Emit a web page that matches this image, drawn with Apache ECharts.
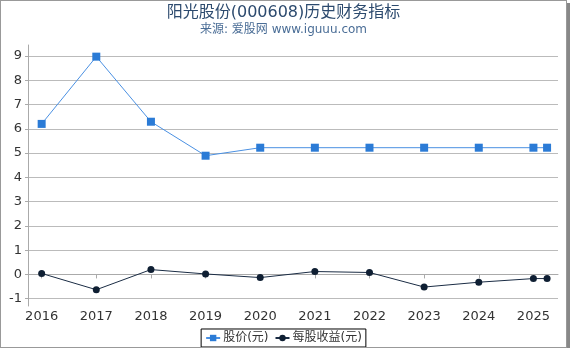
<!DOCTYPE html>
<html>
<head>
<meta charset="utf-8">
<script src="https://cdn.jsdelivr.net/npm/echarts@6/dist/echarts.min.js"></script>
<style>
	html, body { margin: 0; padding: 0; background: #fff; }
	#chart {
		width: 567px;
		height: 348px;
		border: 1px solid #999;
		box-shadow: 3px 3px 0 #888;
		box-sizing: border-box;
	}
</style>
</head>
<body>
<div id="chart"></div>
<script>
	// 年份（2025.25 为最新一期）
	const years = [2016, 2017, 2018, 2019, 2020, 2021, 2022, 2023, 2024, 2025, 2025.25];
	// 股价(元)
	const price = [6.2, 8.97, 6.29, 4.89, 5.22, 5.22, 5.22, 5.22, 5.22, 5.22, 5.22];
	// 每股收益(元)
	const eps = [0.04, -0.63, 0.2, 0.02, -0.13, 0.12, 0.08, -0.52, -0.32, -0.17, -0.17];

	const chart = echarts.init(document.getElementById('chart'));
	const option = {
		animation: false,
		title: {
			text: '阳光股份(000608)历史财务指标',
			subtext: '来源: 爱股网 www.iguuu.com',
			left: 'center',
			top: -1,
			itemGap: 3,
			textStyle: { fontSize: 16, fontWeight: 'normal', color: '#2c4a6e', fontFamily: 'DejaVu Sans, Noto Sans CJK SC' },
			subtextStyle: { fontSize: 12, color: '#4a6d96', fontFamily: 'DejaVu Sans, Noto Sans CJK SC' }
		},
		legend: {
			bottom: 0,
			left: 'center',
			borderColor: '#000',
			borderWidth: 1,
			padding: [3, 4, 3, 4],
			itemGap: 6,
			itemWidth: 14,
			itemHeight: 8,
			textStyle: { fontSize: 12, color: '#333', padding: [0, 0, 0, -2], fontFamily: 'DejaVu Sans, Noto Sans CJK SC' },
			data: ['股价(元)', '每股收益(元)']
		},
		grid: { left: 27, right: 8, top: 44, bottom: 41 },
		xAxis: {
			type: 'value',
			min: 2015.75,
			max: 2025.45,
			splitNumber: 10,
			axisLine: { lineStyle: { color: '#aaa' } },
			axisTick: { show: true, length: 4, lineStyle: { color: '#aaa' } },
			splitLine: { show: false },
			axisLabel: {
				showMinLabel: false,
				showMaxLabel: false,
				margin: 4,
				color: '#333',
				fontSize: 13,
				fontFamily: 'DejaVu Sans',
				formatter: v => String(v)
			}
		},
		yAxis: {
			type: 'value',
			min: -1.3,
			max: 9.45,
			splitNumber: 10,
			axisLine: { show: true, lineStyle: { color: '#aaa' } },
			axisTick: { show: true, length: 3, lineStyle: { color: '#aaa' } },
			splitLine: { showMinLine: false, showMaxLine: false, lineStyle: { color: '#bbb' } },
			axisLabel: {
				showMinLabel: false,
				showMaxLabel: false,
				color: '#333',
				fontSize: 13,
				margin: 6,
				fontFamily: 'DejaVu Sans'
			}
		},
		series: [
			{
				name: '股价(元)',
				type: 'line',
				data: years.map((y, i) => [y, price[i]]),
				symbol: 'rect',
				symbolSize: 8,
				lineStyle: { color: '#4a90e2', width: 1 },
				itemStyle: { color: '#2b7bd6' }
			},
			{
				name: '每股收益(元)',
				type: 'line',
				data: years.map((y, i) => [y, eps[i]]),
				symbol: 'circle',
				symbolSize: 7,
				lineStyle: { color: '#1a2c44', width: 1 },
				itemStyle: { color: '#0f1f33' }
			}
		]
	};
	chart.setOption(option);
</script>
</body>
</html>
